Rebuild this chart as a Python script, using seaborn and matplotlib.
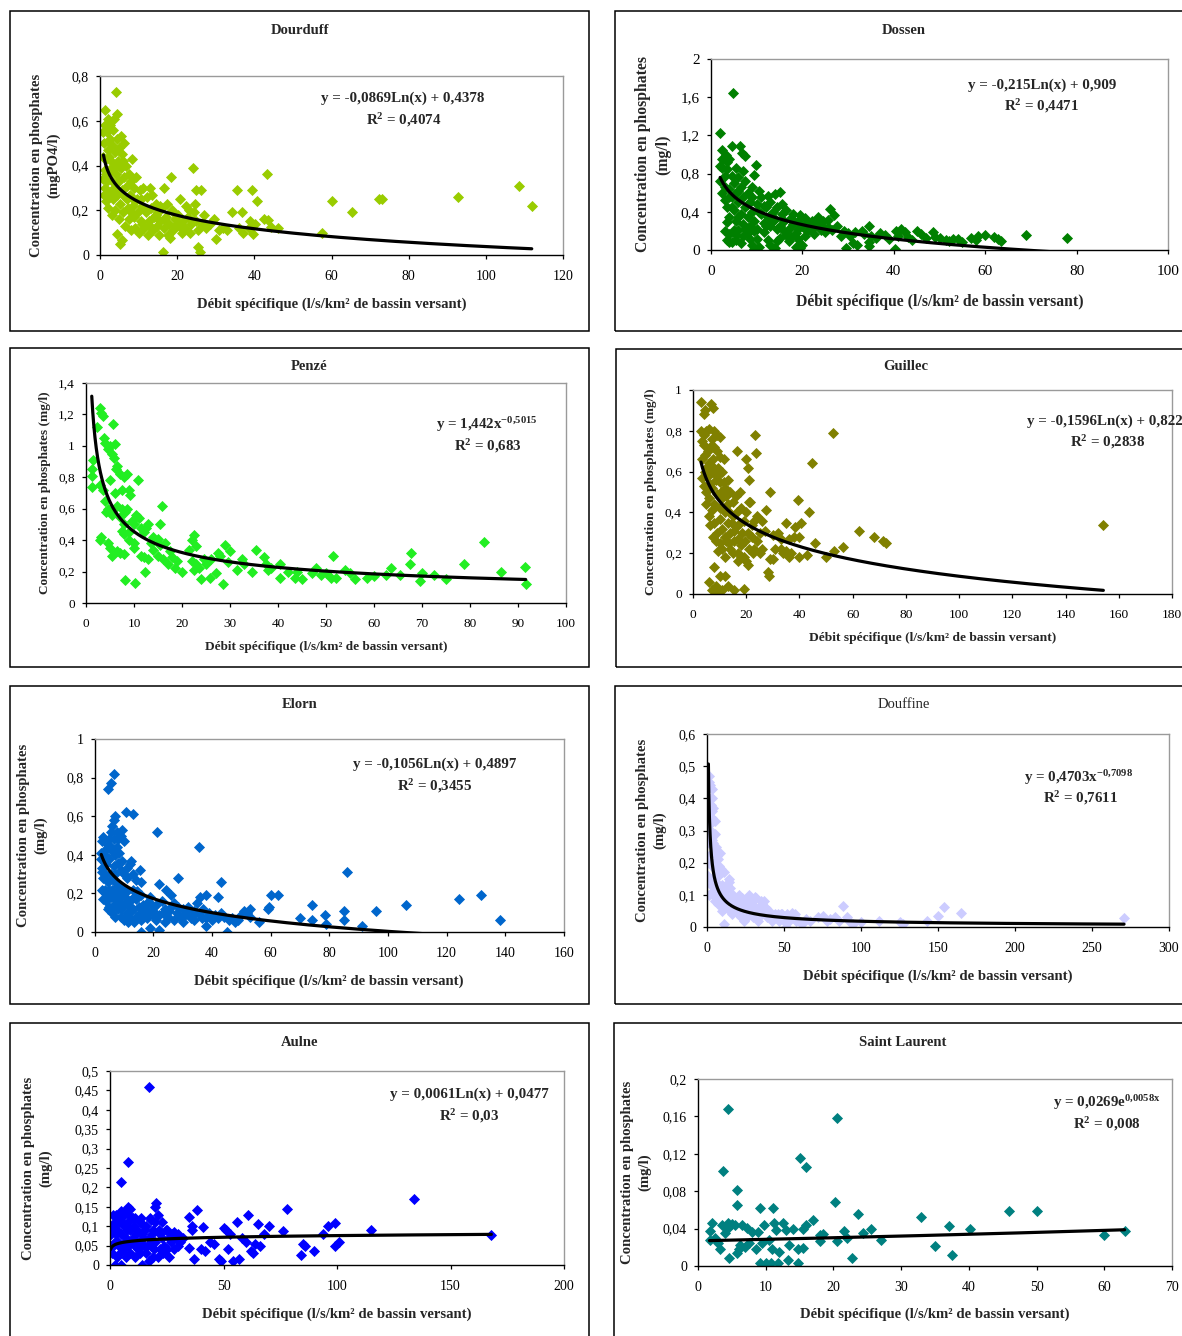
import numpy as np
import pandas as pd
import matplotlib
matplotlib.use("Agg")
import matplotlib.pyplot as plt
from matplotlib.patches import Rectangle
import seaborn as sns

W, H = 1182, 1336

# (debit specifique, concentration)
dourduff = [(0.9,0.44),(0.9,0.34),(1.0,0.27),(1.0,0.50),(1.2,0.38),(1.3,0.65),(1.4,0.30),(1.5,0.24),(1.6,0.43),
            (1.8,0.55),(1.9,0.33),(2.0,0.61),(2.1,0.47),(2.2,0.21),(2.3,0.38),(2.5,0.28),(2.6,0.52),(2.7,0.58),
            (2.8,0.42),(3.0,0.18),(3.0,0.33),(3.1,0.49),(3.3,0.25),(3.4,0.56),(3.5,0.40),(3.6,0.61),(3.7,0.30),
            (3.9,0.46),(4.0,0.20),(4.1,0.36),(4.2,0.73),(4.3,0.63),(4.4,0.52),(4.5,0.27),(4.6,0.42),(4.5,0.094),
            (4.8,0.16),(4.9,0.48),(5.0,0.33),(5.2,0.23),(5.3,0.048),(5.4,0.39),(5.5,0.53),(5.6,0.29),(5.8,0.067),
            (5.8,0.45),(6.0,0.19),(6.1,0.35),(6.3,0.50),(6.5,0.26),(6.6,0.13),(6.8,0.40),(7.0,0.31),(7.2,0.21),
            (7.4,0.36),(7.6,0.16),(7.8,0.27),(8.0,0.11),(8.1,0.33),(8.4,0.43),(8.5,0.22),(8.7,0.17),(8.9,0.30),
            (9.1,0.12),(9.3,0.35),(9.5,0.25),(9.8,0.19),(10.0,0.10),(10.3,0.29),(10.6,0.15),(10.9,0.22),(11.2,0.30),
            (11.5,0.12),(11.8,0.19),(12.1,0.26),(12.4,0.09),(12.7,0.15),(13.0,0.30),(13.2,0.21),(13.5,0.27),
            (13.8,0.11),(14.1,0.17),(14.4,0.23),(14.7,0.13),(15.0,0.19),(15.3,0.09),(15.6,0.15),(16.0,0.21),
            (16.2,0.015),(16.5,0.30),(16.7,0.12),(17.0,0.17),(17.3,0.23),(17.6,0.09),(18.0,0.14),(18.1,0.074),
            (18.3,0.35),(18.6,0.20),(19.0,0.11),(19.4,0.16),(19.8,0.13),(20.3,0.18),(20.8,0.25),(21.2,0.10),
            (21.6,0.15),(22.0,0.12),(22.4,0.22),(22.8,0.17),(23.2,0.10),(23.6,0.14),(24.1,0.39),(24.4,0.19),
            (24.6,0.23),(24.9,0.29),(25.3,0.037),(25.5,0.11),(25.9,0.012),(26.1,0.29),(26.4,0.14),(27.0,0.18),
            (27.5,0.12),(28.5,0.14),(29.6,0.16),(30.0,0.07),(30.8,0.11),(32.0,0.12),(33.0,0.11),(34.3,0.19),
            (35.5,0.29),(36.0,0.12),(36.7,0.19),(37.0,0.10),(38.5,0.12),(39.0,0.15),(39.5,0.29),(39.6,0.095),
            (40.2,0.14),(40.7,0.24),(42.4,0.16),(43.4,0.36),(43.6,0.155),(44.2,0.125),(46.1,0.12),(57.6,0.10),
            (60.1,0.24),(65.3,0.19),(72.2,0.25),(73.0,0.25),(92.7,0.26),(108.6,0.31),(111.9,0.22),
            (1.2,0.58),(2.4,0.44),(3.2,0.38),(2.0,0.26),(4.0,0.30),(5.0,0.40),(6.0,0.42),(7.0,0.25),(8.0,0.19),
            (9.0,0.24),(10.5,0.25),(11.0,0.14),(12.0,0.20),(13.0,0.13),(14.5,0.18),(15.5,0.22),(16.5,0.16),
            (19.0,0.19),(20.0,0.14),(21.0,0.12),(23.0,0.20),(25.0,0.15),(1.5,0.36),(0.9,0.55)]

dossen = [(2.0,1.22),(2.5,1.05),(3.2,1.00),(4.5,1.09),(4.9,1.64),(6.3,1.09),(6.8,1.02),(7.5,0.98),(2.0,0.88),
          (2.5,0.86),(3.5,0.92),(4.0,0.95),(9.9,0.89),(9.5,0.79),(2.0,0.72),(2.5,0.60),(3.0,0.52),(3.0,0.78),
          (3.5,0.45),(4.0,0.64),(4.0,0.35),(4.5,0.55),(4.5,0.78),(5.0,0.42),(5.0,0.70),(5.5,0.30),(5.5,0.60),
          (6.0,0.50),(6.0,0.76),(6.5,0.38),(6.5,0.66),(7.0,0.27),(7.0,0.55),(7.5,0.45),(7.5,0.72),(8.0,0.35),
          (8.0,0.60),(8.5,0.25),(8.5,0.50),(9.0,0.40),(9.0,0.66),(9.5,0.30),(10.0,0.48),(10.0,0.22),(10.5,0.62),
          (11.0,0.38),(11.0,0.55),(11.5,0.28),(12.0,0.45),(12.5,0.35),(12.5,0.57),(13.0,0.25),(13.0,0.50),
          (13.5,0.40),(14.0,0.32),(14.0,0.59),(14.5,0.45),(15.0,0.25),(15.0,0.61),(15.5,0.38),(16.0,0.30),
          (16.5,0.42),(17.0,0.22),(17.5,0.33),(18.0,0.27),(18.5,0.18),(19.0,0.30),(19.5,0.37),(20.0,0.25),
          (20.5,0.34),(20.5,0.15),(21.0,0.28),(22.0,0.30),(22.0,0.22),(23.0,0.27),(23.5,0.35),(24.0,0.21),
          (24.5,0.30),(25.0,0.19),(25.5,0.24),(26.0,0.43),(26.5,0.21),(27.0,0.37),(27.5,0.25),(28.5,0.15),
          (29.0,0.20),(29.5,0.02),(30.0,0.18),(30.5,0.15),(31.0,0.07),(31.5,0.19),(32.0,0.05),(33.0,0.20),
          (33.5,0.17),(34.5,0.25),(34.5,0.08),(34.6,0.04),(35.0,0.15),(36.0,0.13),(37.0,0.18),(38.0,0.16),
          (39.0,0.12),(40.2,0.01),(40.5,0.20),(41.0,0.15),(41.5,0.22),(42.5,0.19),(43.0,0.14),(44.0,0.10),
          (45.0,0.20),(46.0,0.17),(47.0,0.13),(48.5,0.19),(49.0,0.14),(50.0,0.13),(51.5,0.10),(52.0,0.09),
          (53.0,0.12),(54.0,0.12),(55.0,0.08),(57.0,0.13),(58.0,0.10),(58.5,0.15),(60.0,0.16),(62.0,0.14),
          (62.8,0.11),(63.5,0.09),(68.9,0.16),(78.0,0.13),(3.0,0.20),(3.5,0.10),(4.0,0.17),(4.5,0.08),
          (5.5,0.10),(6.0,0.21),(6.5,0.07),(7.0,0.15),(8.0,0.18),(9.0,0.05),(9.5,0.01),(10.0,0.11),(10.5,0.03),
          (11.5,0.19),(12.5,0.10),(13.0,0.05),(14.0,0.02),(14.5,0.09),(15.0,0.13),(16.5,0.16),(17.0,0.09),
          (18.5,0.03),(19.5,0.02),(19.0,0.12),(20.0,0.05),
          (2.5,0.95),(3.0,0.66),(3.5,0.85),(4.5,0.45),(5.5,0.86),(6.0,0.62),(7.0,0.83),(8.0,0.48),(9.0,0.55),
          (9.5,0.20),(10.5,0.40),(11.5,0.46),(12.0,0.25),(13.5,0.30),(14.5,0.22),(15.5,0.48),(16.0,0.20),
          (17.5,0.14),(18.0,0.38),(19.0,0.22),(21.0,0.20),(22.5,0.17),(24.0,0.26),(25.5,0.31),(3.5,0.29),
          (4.0,0.55),(5.0,0.21),(6.0,0.35),(7.5,0.22),(8.5,0.12),(4.0,0.08),(5.5,0.16)]

penze = [(1.2,0.81),(1.2,0.85),(1.2,0.74),(1.5,0.91),(2.3,1.12),(3.0,1.24),(3.2,1.21),(3.5,1.19),(3.8,1.05),
         (4.0,1.02),(4.5,0.98),(5.0,1.00),(5.5,0.95),(5.7,1.14),(6.0,1.01),(6.5,0.87),(5.8,0.92),(6.2,0.85),
         (7.0,0.82),(7.5,0.72),(8.0,0.80),(8.5,0.82),(9.0,0.72),(9.2,0.69),(10.8,0.78),(3.0,0.75),(3.5,0.72),
         (4.0,0.65),(4.5,0.60),(4.2,0.58),(5.0,0.78),(5.5,0.56),(6.0,0.70),(6.5,0.62),(7.0,0.55),(7.5,0.60),
         (8.0,0.50),(8.2,0.58),(8.6,0.60),(9.0,0.45),(9.5,0.52),(10.0,0.50),(10.5,0.56),(11.0,0.54),(11.5,0.48),
         (12.0,0.45),(12.5,0.48),(13.0,0.50),(13.5,0.38),(14.0,0.42),(15.0,0.41),(15.5,0.37),(15.9,0.62),
         (15.5,0.50),(3.0,0.40),(3.2,0.42),(4.5,0.38),(5.0,0.35),(5.5,0.30),(6.5,0.33),(7.0,0.32),(8.0,0.31),
         (7.5,0.46),(8.0,0.44),(9.0,0.40),(10.0,0.38),(10.0,0.35),(10.3,0.13),(8.1,0.145),(11.5,0.30),
         (12.0,0.29),(12.2,0.20),(13.0,0.28),(14.0,0.34),(15.0,0.30),(16.0,0.28),(16.5,0.38),(17.0,0.25),
         (17.5,0.33),(18.0,0.29),(18.5,0.22),(19.0,0.27),(20.0,0.20),(21.5,0.34),(22.0,0.40),(22.5,0.43),
         (23.0,0.36),(22.0,0.27),(22.5,0.21),(23.0,0.25),(23.5,0.22),(24.0,0.15),(24.5,0.28),(25.0,0.25),
         (26.0,0.28),(25.8,0.16),(27.0,0.19),(27.5,0.32),(28.0,0.30),(28.5,0.12),(29.0,0.37),(29.5,0.26),
         (30.0,0.33),(31.5,0.21),(32.5,0.28),(33.0,0.25),(34.5,0.20),(35.5,0.34),(37.0,0.29),(37.5,0.25),
         (38.0,0.21),(38.5,0.22),(40.5,0.25),(40.5,0.16),(42.0,0.20),(43.5,0.16),(44.0,0.20),(45.0,0.15),
         (47.0,0.19),(48.0,0.22),(49.0,0.18),(50.0,0.19),(51.0,0.16),(51.4,0.30),(52.0,0.16),(54.0,0.21),
         (55.0,0.19),(56.0,0.15),(58.5,0.16),(60.0,0.17),(62.5,0.18),(63.5,0.22),(65.5,0.18),(67.5,0.25),
         (67.8,0.32),(69.5,0.14),(70.0,0.19),(72.5,0.18),(75.0,0.15),(78.8,0.25),(83.0,0.39),(86.5,0.20),
         (91.5,0.23),(91.6,0.12)]

guillec = [(3.1,0.94),(4.0,0.88),(4.5,0.90),(6.6,0.93),(7.5,0.91),(3.0,0.80),(4.0,0.78),(5.0,0.80),(6.0,0.81),
           (7.0,0.76),(8.0,0.80),(9.0,0.78),(10.0,0.77),(4.0,0.73),(5.5,0.70),(6.5,0.72),(8.0,0.72),(9.0,0.70),
           (10.0,0.67),(11.5,0.66),(3.5,0.66),(5.0,0.62),(6.0,0.64),(7.0,0.60),(8.0,0.62),(9.0,0.58),(10.0,0.55),
           (11.0,0.60),(12.0,0.52),(13.0,0.56),(4.0,0.53),(5.0,0.50),(6.0,0.47),(7.0,0.52),(8.0,0.44),(9.0,0.49),
           (10.0,0.42),(11.0,0.47),(12.0,0.40),(13.0,0.44),(14.0,0.50),(15.0,0.45),(16.0,0.48),(17.5,0.50),
           (5.0,0.44),(6.0,0.38),(7.0,0.41),(8.0,0.35),(9.0,0.30),(10.0,0.37),(11.0,0.32),(12.0,0.28),(13.0,0.35),
           (14.0,0.30),(15.0,0.38),(16.0,0.33),(17.0,0.27),(18.0,0.42),(19.0,0.36),(20.0,0.40),(21.0,0.45),
           (8.5,0.26),(10.0,0.25),(11.0,0.22),(12.5,0.26),(14.0,0.22),(15.5,0.26),(17.0,0.20),(18.0,0.24),
           (19.0,0.18),(20.0,0.16),(20.5,0.14),(21.0,0.22),(22.0,0.28),(23.0,0.36),(24.0,0.38),(25.0,0.20),
           (26.0,0.22),(26.0,0.36),(27.5,0.41),(28.0,0.11),(28.5,0.09),(29.0,0.17),(29.0,0.50),(30.0,0.17),
           (31.0,0.22),(32.0,0.30),(33.0,0.22),(35.0,0.35),(35.0,0.21),(36.0,0.18),(37.0,0.20),(38.0,0.28),
           (38.5,0.33),(39.5,0.46),(40.0,0.28),(40.0,0.18),(40.5,0.35),(43.0,0.19),(43.5,0.40),(44.7,0.64),
           (46.0,0.25),(50.0,0.18),(52.5,0.79),(53.0,0.21),(56.5,0.23),(62.5,0.31),(68.0,0.28),(71.5,0.26),
           (72.5,0.25),(154.2,0.34),(16.5,0.70),(20.0,0.66),(20.5,0.62),(21.0,0.56),(23.4,0.78),(23.5,0.69),
           (21.5,0.45),(6.0,0.06),(7.0,0.02),(7.8,0.13),(9.0,0.01),(10.0,0.09),(11.0,0.02),(12.0,0.09),
           (13.0,0.04),(15.5,0.02),(19.0,0.025),(8.5,0.04),
           (3.5,0.75),(4.5,0.68),(5.5,0.58),(6.5,0.54),(7.5,0.66),(8.5,0.56),(9.5,0.62),(10.5,0.50),(11.5,0.55),
           (12.5,0.48),(13.5,0.40),(14.5,0.35),(15.5,0.31),(16.5,0.40),(17.5,0.35),(18.5,0.30),(19.5,0.26),
           (20.5,0.30),(22.0,0.34),(23.0,0.22),(24.0,0.26),(4.5,0.60),(5.5,0.53),(3.5,0.57),(6.5,0.34),
           (7.5,0.28),(9.5,0.21),(12.0,0.18),(13.5,0.25),(15.0,0.20),(17.0,0.16),(18.0,0.18),(22.5,0.20),
           (25.0,0.30),(27.0,0.31),(30.0,0.29),(33.0,0.27),(34.0,0.20),(36.0,0.27)]

elorn = [(4.7,0.74),(5.7,0.77),(6.8,0.82),(7.0,0.60),(6.5,0.58),(6.0,0.55),(5.5,0.52),(5.0,0.48),(4.5,0.45),
         (3.0,0.49),(2.5,0.47),(2.3,0.41),(2.3,0.38),(2.5,0.33),(2.6,0.31),(3.5,0.22),(4.0,0.16),(3.0,0.21),
         (10.7,0.62),(13.2,0.61),(9.5,0.53),(10.0,0.47),(9.0,0.50),(8.0,0.48),(7.5,0.44),(7.0,0.40),(6.0,0.42),
         (5.0,0.38),(4.0,0.35),(5.5,0.30),(6.5,0.34),(8.0,0.36),(9.0,0.32),(10.0,0.30),(11.0,0.28),(12.0,0.35),
         (12.5,0.37),(13.0,0.30),(14.0,0.27),(15.5,0.32),(16.0,0.26),(21.3,0.52),(22.0,0.25),(24.5,0.22),
         (26.0,0.19),(28.5,0.28),(35.6,0.44),(38.0,0.19),(42.0,0.18),(43.0,0.26),(36.0,0.18),(4.0,0.20),
         (5.0,0.13),(6.0,0.22),(6.0,0.10),(7.0,0.17),(8.0,0.12),(8.0,0.24),(9.0,0.08),(9.0,0.19),(10.0,0.14),
         (10.0,0.06),(11.0,0.21),(11.0,0.10),(12.0,0.16),(12.0,0.07),(13.0,0.12),(13.0,0.22),(14.0,0.17),
         (14.0,0.08),(15.0,0.13),(16.0,0.19),(16.0,0.06),(16.0,0.00),(17.0,0.10),(18.0,0.15),(18.0,0.07),
         (19.0,0.02),(19.0,0.18),(20.0,0.11),(21.0,0.14),(21.0,0.06),(22.0,0.01),(22.0,0.09),(23.0,0.16),
         (24.0,0.12),(24.0,0.05),(25.0,0.08),(26.0,0.13),(27.0,0.06),(27.0,0.15),(28.0,0.10),(29.0,0.08),
         (30.0,0.12),(30.0,0.05),(31.0,0.09),(32.0,0.13),(33.0,0.07),(34.0,0.11),(34.0,0.06),(35.0,0.15),
         (36.0,0.09),(37.0,0.12),(38.0,0.03),(38.0,0.07),(39.0,0.10),(40.0,0.06),(41.0,0.09),(42.0,0.07),
         (43.0,0.10),(45.0,0.00),(47.0,0.07),(48.0,0.05),(49.0,0.06),(50.0,0.09),(51.0,0.11),(52.0,0.10),
         (53.0,0.12),(53.0,0.08),(56.0,0.05),(59.0,0.12),(59.5,0.13),(60.0,0.19),(62.5,0.19),(70.0,0.07),
         (74.0,0.14),(74.0,0.06),(78.5,0.09),(79.0,0.04),(85.0,0.11),(85.0,0.06),(86.1,0.31),(91.0,0.03),
         (96.0,0.11),(106.0,0.14),(124.1,0.17),(131.8,0.19),(138.1,0.06),
         (3.0,0.28),(3.5,0.30),(4.5,0.26),(5.0,0.22),(5.5,0.18),(6.5,0.14),(7.0,0.26),(7.5,0.20),(8.5,0.16),
         (9.5,0.23),(10.5,0.18),(11.5,0.14),(12.5,0.11),(13.5,0.18),(14.5,0.21),(15.5,0.10),(16.5,0.14),
         (17.5,0.12),(18.5,0.10),(19.5,0.14),(20.5,0.08),(23.5,0.10),(25.5,0.11),(28.5,0.13),(31.5,0.11),
         (33.5,0.09),(36.5,0.07),(44.0,0.08),(46.0,0.06),(4.0,0.43),(3.5,0.40),(5.5,0.44),(6.5,0.48),
         (7.5,0.52),(8.5,0.41),(9.5,0.37),(11.0,0.33),(6.0,0.28),(7.0,0.30),(3.0,0.33),(3.5,0.36),(2.5,0.22),
         (3.0,0.17),(4.5,0.12),(7.0,0.08),(9.0,0.12),(11.5,0.05),(13.5,0.05)]

douffine = [(1.0,0.47),(2.0,0.44),(3.0,0.43),(1.5,0.40),(2.5,0.38),(3.0,0.36),(3.5,0.34),(4.0,0.33),(2.0,0.32),
            (1.0,0.35),(0.9,0.30),(1.0,0.26),(2.0,0.27),(3.0,0.28),(4.0,0.26),(5.0,0.29),(5.0,0.24),(6.0,0.25),
            (6.5,0.22),(7.0,0.21),(8.0,0.19),(8.5,0.23),(9.0,0.18),(10.0,0.17),(1.0,0.20),(0.9,0.16),(1.5,0.10),
            (2.5,0.13),(3.0,0.19),(4.0,0.15),(4.0,0.10),(5.0,0.12),(6.0,0.09),(6.0,0.14),(7.0,0.16),(7.5,0.12),
            (8.0,0.07),(9.0,0.11),(10.0,0.08),(10.0,0.13),(11.0,0.10),(11.0,0.01),(11.1,0.17),(12.0,0.06),
            (14.0,0.15),(14.5,0.14),(13.0,0.09),(15.0,0.12),(15.0,0.05),(16.0,0.08),(17.0,0.10),(18.0,0.06),
            (19.0,0.09),(20.0,0.04),(20.0,0.07),(21.0,0.10),(22.0,0.03),(22.0,0.08),(23.0,0.05),(24.0,0.02),
            (25.0,0.06),(26.0,0.09),(26.0,0.03),(27.0,0.10),(28.0,0.05),(29.0,0.07),(30.0,0.03),(31.1,0.093),
            (31.0,0.06),(32.0,0.09),(33.0,0.02),(34.0,0.05),(35.0,0.08),(36.0,0.04),(37.2,0.082),(38.0,0.06),
            (39.0,0.03),(40.0,0.05),(41.0,0.04),(42.0,0.02),(44.0,0.04),(45.0,0.03),(47.0,0.02),(48.0,0.04),
            (49.0,0.04),(50.0,0.02),(51.0,0.00),(52.0,0.04),(53.0,0.02),(55.0,0.045),(56.0,0.03),(58.0,0.02),
            (60.0,0.02),(62.0,0.01),(64.0,0.025),(67.0,0.02),(72.0,0.03),(75.0,0.035),(78.0,0.02),(80.0,0.025),
            (83.0,0.03),(86.0,0.02),(88.3,0.064),(91.0,0.03),(93.0,0.015),(95.0,0.01),(100.0,0.015),
            (112.0,0.02),(125.0,0.015),(127.0,0.01),(143.0,0.02),(150.0,0.035),(154.2,0.061),(165.0,0.045),
            (270.8,0.028),
            (1.5,0.45),(2.0,0.38),(2.5,0.30),(3.0,0.23),(3.5,0.27),(4.5,0.20),(5.5,0.18),(6.5,0.17),(1.5,0.22),
            (2.0,0.15),(3.5,0.11),(5.0,0.08),(7.0,0.07),(8.5,0.10),(9.5,0.05),(12.0,0.11),(13.0,0.13),(16.0,0.04),
            (18.0,0.09),(23.0,0.09),(24.0,0.07),(28.0,0.08),(33.0,0.06),(36.0,0.07),(43.0,0.03),(46.0,0.04),
            (54.0,0.03),(57.0,0.04),(3.0,0.40),(4.0,0.37),(5.0,0.33)]

aulne = [(17.0,0.459),(7.8,0.266),(4.9,0.214),(20.2,0.161),(20.0,0.15),(8.0,0.15),(9.0,0.145),(5.0,0.14),
         (6.0,0.13),(11.0,0.12),(13.0,0.11),(16.0,0.10),(18.0,0.115),(21.0,0.13),(23.0,0.11),(25.0,0.09),
         (28.0,0.085),(30.0,0.08),(34.9,0.125),(38.4,0.143),(36.0,0.10),(41.0,0.097),(36.0,0.09),(35.0,0.045),
         (37.0,0.015),(40.0,0.04),(42.0,0.035),(44.0,0.06),(46.0,0.055),(48.0,0.015),(49.0,0.01),(50.0,0.095),
         (51.0,0.09),(52.0,0.04),(53.0,0.08),(54.0,0.01),(56.0,0.11),(57.0,0.015),(58.0,0.07),(60.0,0.06),
         (61.0,0.128),(62.0,0.035),(63.0,0.03),(64.0,0.055),(65.0,0.105),(66.0,0.05),(68.0,0.08),(70.0,0.10),
         (76.0,0.087),(78.0,0.145),(84.0,0.025),(85.0,0.055),(86.0,0.05),(90.0,0.035),(94.0,0.08),(96.0,0.10),
         (99.0,0.108),(99.0,0.05),(101.0,0.06),(115.0,0.09),(134.0,0.17),(168.0,0.078),(0.3,0.08),(1.0,0.03),
         (1.0,0.10),(2.0,0.06),(2.0,0.00),(3.0,0.12),(3.0,0.02),(3.0,0.09),(4.0,0.05),(4.0,0.11),(5.0,0.00),
         (5.0,0.08),(6.0,0.04),(6.0,0.10),(7.0,0.02),(7.0,0.07),(8.0,0.11),(8.0,0.05),(9.0,0.09),(9.0,0.03),
         (10.0,0.07),(10.0,0.12),(11.0,0.05),(11.0,0.02),(12.0,0.09),(13.0,0.06),(13.0,0.03),(14.0,0.00),
         (14.0,0.08),(15.0,0.05),(15.0,0.10),(16.0,0.03),(17.0,0.07),(17.0,0.01),(18.0,0.05),(19.0,0.09),
         (19.0,0.02),(20.0,0.06),(20.0,0.11),(21.0,0.02),(22.0,0.08),(22.0,0.04),(23.0,0.07),(24.0,0.05),
         (25.0,0.04),(26.0,0.07),(26.0,0.02),(27.0,0.06),(28.0,0.04),(29.0,0.07),(30.0,0.05),(31.0,0.06),
         (32.0,0.07),(4.5,0.13),(6.5,0.14),(2.0,0.11),(1.5,0.09),
         (1.5,0.05),(2.5,0.08),(3.5,0.06),(4.5,0.03),(5.5,0.11),(6.5,0.06),(7.5,0.09),(8.5,0.13),(9.5,0.06),
         (10.5,0.10),(11.5,0.08),(12.5,0.04),(13.5,0.12),(14.5,0.07),(15.5,0.09),(16.5,0.05),(17.5,0.12),
         (18.5,0.08),(19.5,0.04),(21.5,0.09),(23.5,0.03),(24.5,0.09),(27.5,0.08),(2.5,0.13),(0.8,0.05),
         (1.2,0.13)]

saint_laurent = [(4.4,0.168),(3.7,0.102),(5.8,0.081),(5.8,0.065),(20.6,0.158),(15.0,0.115),(16.0,0.106),
                 (20.2,0.068),(9.1,0.062),(11.1,0.062),(17.0,0.049),(23.6,0.056),(25.6,0.040),(24.3,0.035),
                 (21.5,0.037),(22.0,0.030),(27.0,0.028),(33.0,0.052),(35.0,0.021),(37.0,0.043),(37.5,0.012),
                 (40.2,0.040),(46.0,0.059),(50.0,0.059),(60.0,0.033),(63.0,0.037),(22.8,0.009),(20.5,0.027),
                 (18.0,0.033),(18.5,0.034),(18.0,0.027),(16.0,0.044),(15.5,0.040),(15.5,0.019),(14.8,0.018),
                 (14.7,0.003),(14.0,0.040),(13.5,0.022),(13.3,0.006),(13.0,0.038),(12.5,0.046),(12.0,0.015),
                 (11.8,0.003),(11.5,0.038),(11.2,0.046),(11.0,0.018),(10.8,0.003),(10.5,0.028),(10.0,0.003),
                 (9.8,0.044),(9.5,0.025),(9.2,0.003),(8.8,0.036),(8.5,0.018),(8.0,0.036),(7.5,0.025),(7.2,0.041),
                 (7.0,0.020),(6.5,0.044),(6.2,0.022),(6.0,0.018),(5.8,0.014),(5.5,0.044),(5.0,0.045),(4.6,0.009),
                 (4.5,0.046),(4.3,0.040),(4.0,0.035),(3.5,0.044),(3.3,0.018),(3.0,0.025),(2.5,0.030),(2.0,0.046),
                 (1.8,0.037),(1.7,0.028)]

# trend line equations printed on the charts
dourduff_fit = ("log", -0.0869, 0.4378)
dossen_fit = ("log", -0.215, 0.909)
penze_fit = ("pow", 1.442, -0.5015)
guillec_fit = ("log", -0.1596, 0.822)
elorn_fit = ("log", -0.1056, 0.4897)
douffine_fit = ("pow", 0.4703, -0.7098)
aulne_fit = ("log", 0.0061, 0.0477)
saint_laurent_fit = ("exp", 0.0269, 0.0058)

sns.set_style("white")
plt.rcParams["font.family"] = ["Liberation Serif", "DejaVu Serif"]
plt.rcParams["mathtext.fontset"] = "custom"
plt.rcParams["mathtext.rm"] = "Liberation Serif"
plt.rcParams["mathtext.bf"] = "Liberation Serif:bold"
plt.rcParams["mathtext.default"] = "bf"


def trend(kind, a, b, x):
    if kind == "log":
        return a * np.log(x) + b
    if kind == "pow":
        return a * x ** b
    return a * np.exp(b * x)


def tick_txt(v):
    return f"{v:g}".replace(".", ",")


def fx(p):
    return p / W


def fy(p):
    return 1 - p / H


XLAB = "Débit spécifique (l/s/km² de bassin versant)"
Y2 = "Concentration en phosphates\n(mg/l)"
Y1 = "Concentration en phosphates (mg/l)"

panels = [
    dict(name="Dourduff", pts=dourduff, fit=dourduff_fit, color="#99CC00", ax=(100, 76, 563, 255),
         box=(10, 11, 589, 331), title=(300, 30, "bold"), ylab="Concentration en phosphates\n(mgPO4/l)",
         ylab_x=45, xlab_y=304, fs=10.6, tfs=10, xlim=(120, 20), ylim=(0.8, 0.2),
         eq="y = -0,0869Ln(x) + 0,4378", eq_xy=(403, 98, "center"), r2="0,4074", r2_xy=(404, 120)),
    dict(name="Dossen", pts=dossen, fit=dossen_fit, color="#008000", ax=(711, 59, 1168, 250),
         box=(615, 11, 1200, 331), title=(904, 31, "bold"), ylab=Y2, ylab_x=653, xlab_y=302,
         fs=11.3, tfs=11, xlim=(100, 20), ylim=(2, 0.4),
         eq="y = -0,215Ln(x) + 0,909", eq_xy=(1042, 85, "center"), r2="0,4471", r2_xy=(1042, 106)),
    dict(name="Penzé", pts=penze, fit=penze_fit, color="#22EE22", ax=(86, 383, 566, 603),
         box=(10, 348, 589, 667), title=(309, 367, "bold"), ylab=Y1, ylab_x=45, xlab_y=647,
         fs=9.5, tfs=9.5, xlim=(100, 10), ylim=(1.4, 0.2),
         eq="y = 1,442x$^{-0{,}5015}$", eq_xy=(487, 425, "center"), r2="0,683", r2_xy=(488, 446)),
    dict(name="Guillec", pts=guillec, fit=guillec_fit, color="#808000", ax=(693, 390, 1172, 594),
         box=(616, 349, 1200, 667), title=(906, 367, "bold"), ylab=Y1, ylab_x=651, xlab_y=638,
         fs=9.7, tfs=9.7, xlim=(180, 20), ylim=(1, 0.2),
         eq="y = -0,1596Ln(x) + 0,822", eq_xy=(1027, 421, "left"), r2="0,2838", r2_xy=(1108, 442)),
    dict(name="Elorn", pts=elorn, fit=elorn_fit, color="#0066CC", ax=(94.5, 739, 564, 932),
         box=(10, 686, 589, 1004), title=(300, 705, "bold"), ylab=Y2, ylab_x=32, xlab_y=981,
         fs=10.6, tfs=10, xlim=(160, 20), ylim=(1, 0.2),
         eq="y = -0,1056Ln(x) + 0,4897", eq_xy=(435, 764, "center"), r2="0,3455", r2_xy=(435, 786)),
    dict(name="Douffine", pts=douffine, fit=douffine_fit, color="#CCCCFF", ax=(707, 734, 1169, 927),
         box=(615, 686, 1200, 1004), title=(904, 705, "normal"), ylab=Y2, ylab_x=651, xlab_y=976,
         fs=10.6, tfs=10, xlim=(300, 50), ylim=(0.6, 0.1),
         eq="y = 0,4703x$^{-0{,}7098}$", eq_xy=(1079, 778, "center"), r2="0,7611", r2_xy=(1081, 798)),
    dict(name="Aulne", pts=aulne, fit=aulne_fit, color="#0000FF", ax=(110, 1071, 564, 1265),
         box=(10, 1023, 589, 1345), title=(300, 1042, "bold"), ylab=Y2, ylab_x=37, xlab_y=1314,
         fs=10.6, tfs=10, xlim=(200, 50), ylim=(0.5, 0.05),
         eq="y = 0,0061Ln(x) + 0,0477", eq_xy=(469, 1094, "center"), r2="0,03", r2_xy=(469, 1116)),
    dict(name="Saint Laurent", pts=saint_laurent, fit=saint_laurent_fit, color="#008080",
         ax=(698, 1079, 1172, 1266), box=(614, 1023, 1200, 1345), title=(903, 1042, "bold"), ylab=Y2,
         ylab_x=636, xlab_y=1314, fs=10.6, tfs=10, xlim=(70, 10), ylim=(0.2, 0.04),
         eq="y = 0,0269e$^{0{,}0058x}$", eq_xy=(1107, 1103, "center"), r2="0,008", r2_xy=(1107, 1124)),
]

fig = plt.figure(figsize=(W / 100, H / 100), dpi=100)

for p in panels:
    l, t, r, b = p["box"]
    fig.add_artist(Rectangle((fx(l), fy(b)), (r - l) / W, (b - t) / H, transform=fig.transFigure,
                             fill=False, ec="black", lw=1.1))
    l, t, r, b = p["ax"]
    ax = fig.add_axes([fx(l), fy(b), (r - l) / W, (b - t) / H])

    df = pd.DataFrame(p["pts"], columns=["debit", "conc"])
    sns.scatterplot(data=df, x="debit", y="conc", marker="D", s=32, color=p["color"],
                    linewidth=0, ax=ax, zorder=2)
    kind, a, c = p["fit"]
    xs = np.geomspace(df["debit"].min(), df["debit"].max(), 500)
    sns.lineplot(x=xs, y=trend(kind, a, c, xs), color="black", lw=2.3, ax=ax, zorder=3)

    xmax, xstep = p["xlim"]
    ymax, ystep = p["ylim"]
    xt = np.round(np.arange(0, xmax + xstep / 2, xstep), 4)
    yt = np.round(np.arange(0, ymax + ystep / 2, ystep), 4)
    ax.set_xlim(0, xmax)
    ax.set_ylim(0, ymax)
    ax.set_xticks(xt)
    ax.set_xticklabels([tick_txt(v) for v in xt])
    ax.set_yticks(yt)
    ax.set_yticklabels([tick_txt(v) for v in yt])
    ax.set_xlabel("")
    ax.set_ylabel("")
    ax.tick_params(axis="x", bottom=True, direction="out", length=3, width=0.9, pad=8,
                   labelsize=p["tfs"], colors="black")
    ax.tick_params(axis="y", left=True, direction="out", length=3, width=0.9, pad=5,
                   labelsize=p["tfs"], colors="black")
    for s in ("left", "bottom"):
        ax.spines[s].set_color("black")
        ax.spines[s].set_linewidth(1.0)
    for s in ("top", "right"):
        ax.spines[s].set_color("#9A9A9A")
        ax.spines[s].set_linewidth(1.0)

    cx = (l + r) / 2
    cy = (t + b) / 2
    tx, ty, tw = p["title"]
    fig.text(fx(tx), fy(ty), p["name"], ha="center", va="center", fontsize=10.5, fontweight=tw)
    fig.text(fx(cx), fy(p["xlab_y"]), XLAB, ha="center", va="center", fontsize=p["fs"], fontweight="bold")
    fig.text(fx(p["ylab_x"]), fy(cy), p["ylab"], ha="center", va="center", rotation=90,
             fontsize=p["fs"], fontweight="bold", multialignment="center", linespacing=1.35)
    ex, ey, eha = p["eq_xy"]
    fig.text(fx(ex), fy(ey), p["eq"], ha=eha, va="center", fontsize=10.8, fontweight="bold")
    rx, ry = p["r2_xy"]
    fig.text(fx(rx), fy(ry), "R$^{2}$ = " + p["r2"], ha="center", va="center", fontsize=10.8,
             fontweight="bold")

fig.savefig("out.png", dpi=100, facecolor="white")
